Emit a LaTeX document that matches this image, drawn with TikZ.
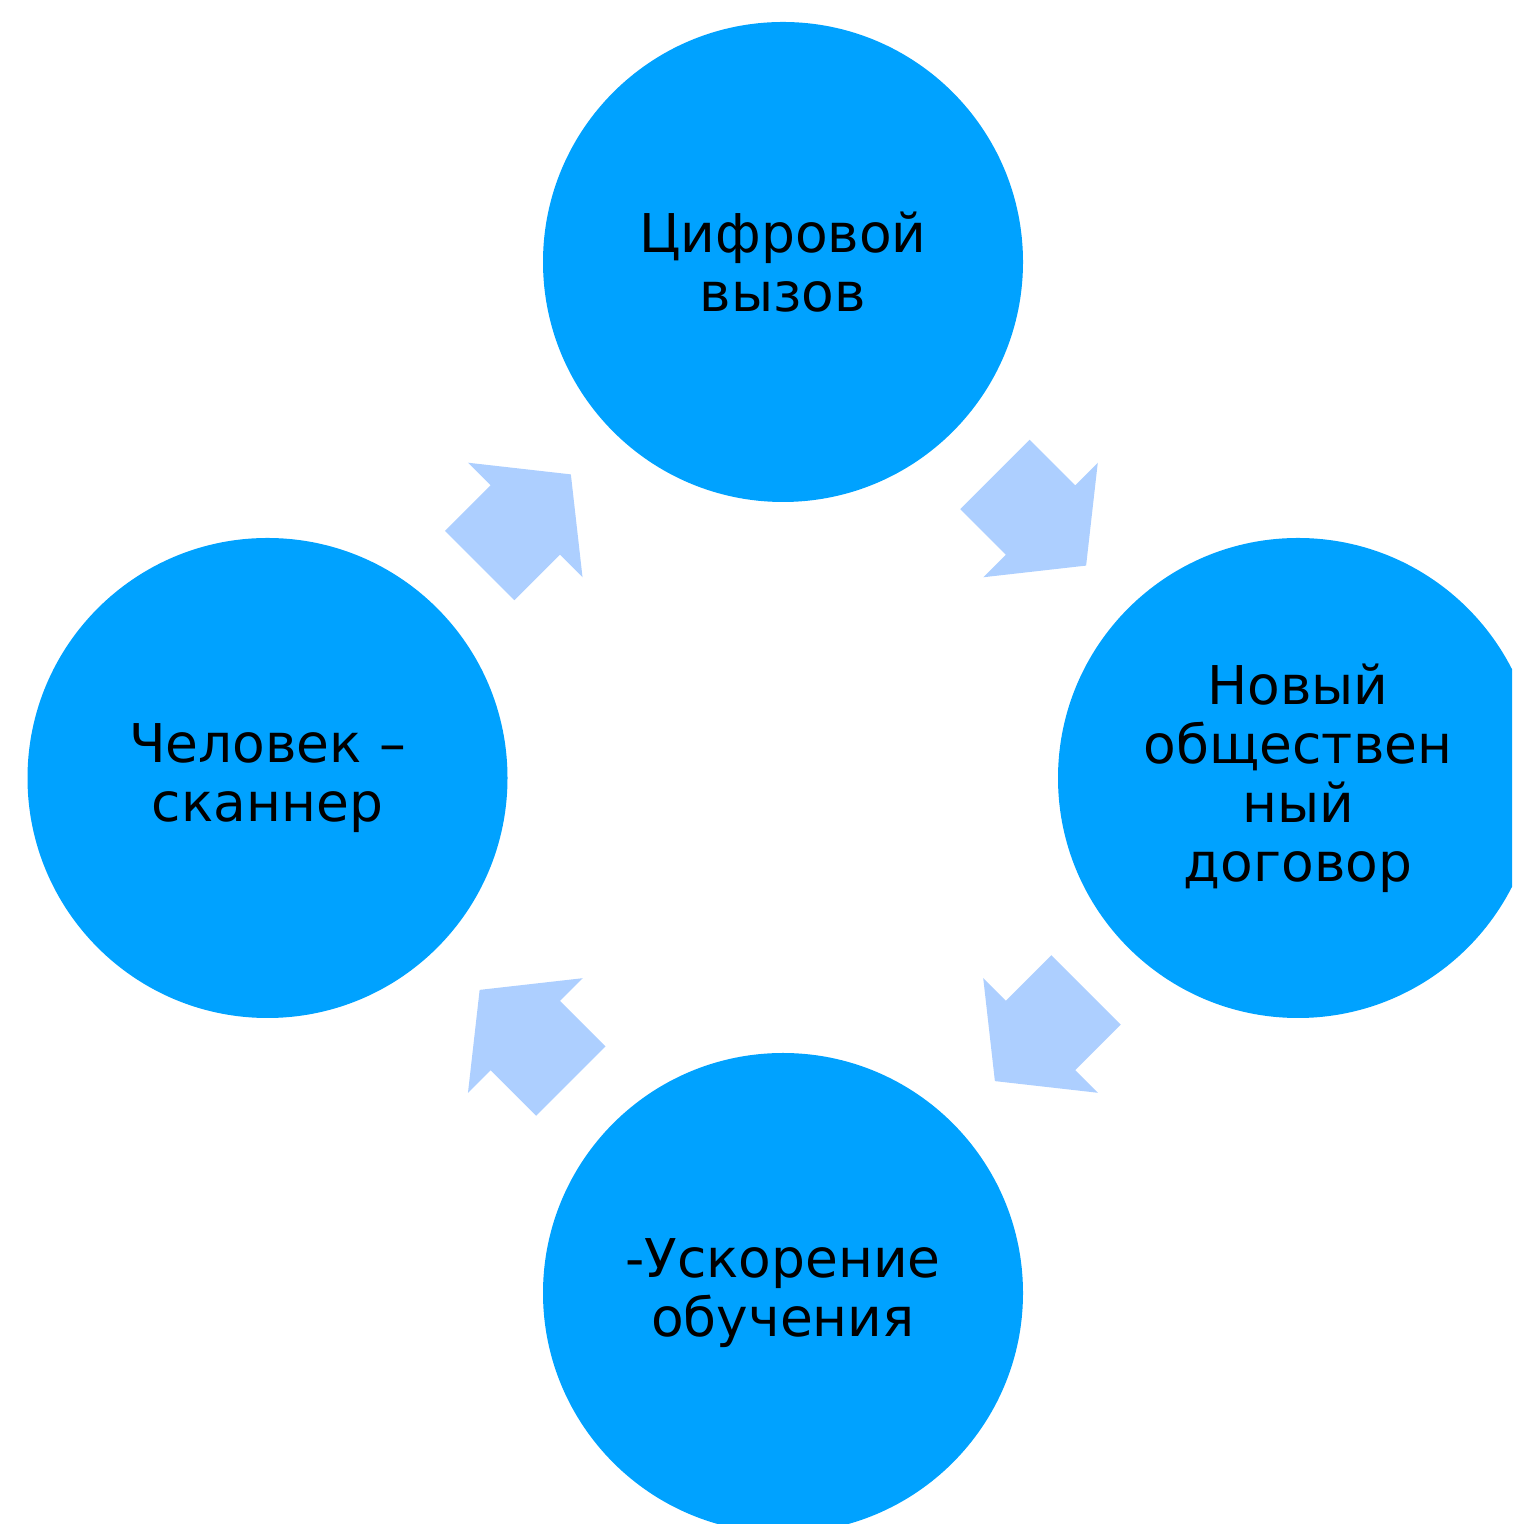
\documentclass[tikz,border=0pt]{standalone}
\usepackage{fontspec}
\setmainfont{DejaVu Sans}
\usetikzlibrary{calc}
\definecolor{circblue}{RGB}{0,162,255}
\definecolor{arrblue}{RGB}{173,207,255}
\tikzset{
  stage/.style={circle,fill=circblue,minimum size=4.8cm,inner sep=0pt,align=center,font=\fontsize{15.2}{16.8}\selectfont},
  cyclearrow/.pic={\fill[arrblue] (-0.645,-0.49) -- (0,-0.49) -- (0,-0.81) -- (0.645,0) -- (0,0.81) -- (0,0.49) -- (-0.645,0.49) -- cycle;}
}

\begin{document}
\begin{tikzpicture}
\path[use as bounding box,clip] (0,0) rectangle (15.12,15.24);
\node[stage] (dig) at (7.83,12.62) {Цифровой\\вызов};
\node[stage] (soc) at (12.98,7.46) {Новый\\обществен\\ный\\договор};
\node[stage] (edu) at (7.83,2.31) {-Ускорение\\обучения};
\node[stage] (man) at (2.675,7.46) {Человек –\\сканнер};
\path ($(dig)!0.5!(soc)$) pic[rotate=-45] {cyclearrow};
\path ($(soc)!0.5!(edu)$) pic[rotate=-135] {cyclearrow};
\path ($(edu)!0.5!(man)$) pic[rotate=135] {cyclearrow};
\path ($(man)!0.5!(dig)$) pic[rotate=45] {cyclearrow};
\end{tikzpicture}
\end{document}
